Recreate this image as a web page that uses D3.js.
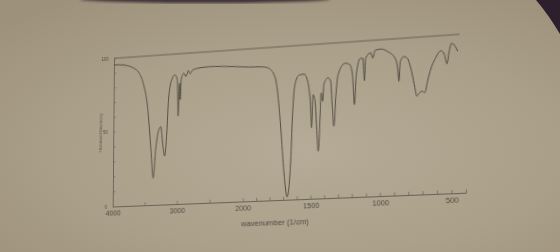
<!DOCTYPE html>
<html>
<head>
<meta charset="utf-8">
<script src="https://cdn.jsdelivr.net/npm/d3@7"></script>
<style>
body { margin:0; width:560px; height:252px; overflow:hidden; position:relative; background:#aca28c; }
#paper { position:absolute; left:0; top:0; }
#chart { position:absolute; left:0; top:0; transform-origin:0 0; overflow:visible; filter:blur(0.35px); }
text { font-family:"Liberation Sans", Arial, sans-serif; }
</style>
</head>
<body>
<svg id="paper" width="560" height="252"></svg>
<svg id="chart"></svg>
<script>

// IR spectrum (wavenumber in 1/cm, transmittance in %)
var wavenumbers = [4000, 3900, 3800, 3682, 3600, 3532, 3455, 3405, 3368, 3330, 3279, 3250, 3216, 3190,
    3156, 3130, 3081, 3031, 2991, 2982, 2956, 2947, 2931, 2890, 2856, 2820, 2791, 2754, 2679, 2500,
    2300, 2100, 1950, 1850, 1800, 1753, 1730, 1710, 1691, 1671, 1640, 1622, 1599, 1565, 1528, 1504,
    1488, 1482, 1466, 1452, 1443, 1437, 1418, 1406, 1396, 1385, 1354, 1334, 1328, 1319, 1298, 1279,
    1226, 1189, 1174, 1166, 1146, 1112, 1095, 1088, 1075, 1036, 1024, 1003, 961, 911, 863, 847,
    841, 826, 800, 776, 753, 732, 717, 697, 680, 660, 637, 617, 575, 535, 512, 497, 477, 458, 434, 417]
var transmittance = [95.5, 95.2, 94.5, 92.3, 89, 81.8, 63.7, 36.8, 17.7, 36.6, 49.9, 51.6, 38.5, 31.9,
    47.4, 69.6, 82.7, 85.9, 82.4, 58, 80, 69, 82.3, 86.6, 84.3, 88.2, 85.9, 88.4, 89.3, 89.9,
    89.5, 88.8, 87.9, 87.5, 86.5, 81.6, 70.6, 46.7, 17.3, 1.8, 24.5, 52.7, 74.2, 80.5, 80.8, 75.9,
    62.8, 45.6, 67, 62.6, 41, 30.2, 51.7, 67.9, 62.4, 73.2, 77.4, 75.1, 62.1, 45.8, 66.1, 79,
    86.2, 84.9, 78.4, 59, 78.3, 88.8, 88.6, 74, 88.6, 92, 88.4, 93.5, 93.9, 91.8, 87.4, 80.9,
    72.3, 85, 88, 86.9, 80.4, 69.7, 62.1, 64.2, 65.1, 64, 71.3, 77.5, 85.8, 90.2, 87.6, 81.6, 89.5, 94.6, 92.4, 89.2]

var xLabels = [4000, 3000, 2000, 1500, 1000, 500]
var xMinor = [4000, 3500, 3000, 2500, 2000, 1900, 1800, 1700, 1600, 1500, 1400, 1300, 1200, 1100,
    1000, 900, 800, 700, 600, 500, 400]
var yLabels = [0, 50, 100]
var yMinor = [0, 10, 20, 30, 40, 50, 60, 70, 80, 90, 100]
var xTitle = "wavenumber (1/cm)"
var yTitle = "TRANSMITTANCE(%)"

var spectrum = wavenumbers.map(function (w, i) { return {wn: w, t: transmittance[i]} })

// the paper the chart was printed on
var paper = d3.select("#paper")
var defs = paper.append("defs")
var grad = defs.append("radialGradient").attr("id", "bg")
    .attr("cx", "0.55").attr("cy", "0.6").attr("r", "0.75")
grad.append("stop").attr("offset", "0").attr("stop-color", "#b5ab96")
grad.append("stop").attr("offset", "0.55").attr("stop-color", "#aba08a")
grad.append("stop").attr("offset", "1").attr("stop-color", "#9d917b")
defs.append("filter").attr("id", "soft").append("feGaussianBlur").attr("stdDeviation", 1.5)

paper.append("rect").attr("width", 560).attr("height", 252).attr("fill", "url(#bg)")
paper.append("ellipse").attr("cx", 205).attr("cy", -1).attr("rx", 125).attr("ry", 4)
    .attr("fill", "#3c3036").attr("filter", "url(#soft)")
paper.append("path").attr("d", "M536,0 L560,0 L560,34 Q548,14 536,0 Z").attr("fill", "#2e1f2d")

// chart drawn flat, then put in perspective like the photo
var screen = {width: 400, height: 210}
var margins = {left: 40, top: 20}
var graph = {width: 350, height: 150}

var svg = d3.select("#chart")
    .attr("width", screen.width)
    .attr("height", screen.height)

var target = svg.append("g")
    .attr("transform", "translate(" + margins.left + "," + margins.top + ")")

var xScale = d3.scaleLinear()
    .domain([4000, 2000, 400])
    .range([0, graph.width / 2.6, graph.width])

var yScale = d3.scaleLinear()
    .domain([0, 100])
    .range([graph.height, 0])

var ink = "#544d44"
var axisInk = "#6a6357"
var textInk = "#4f4941"

// top frame line
target.append("line")
    .attr("x1", xScale(4000)).attr("x2", xScale(400))
    .attr("y1", yScale(100)).attr("y2", yScale(100))
    .attr("stroke", axisInk).attr("stroke-width", 1)

var xAxis = d3.axisBottom(xScale)
    .tickValues(xMinor)
    .tickSizeInner(-3)
    .tickSizeOuter(0)
    .tickPadding(3.5)
    .tickFormat(function (d) { return xLabels.indexOf(d) >= 0 ? d : "" })

var gx = target.append("g")
    .attr("transform", "translate(0," + graph.height + ")")
    .call(xAxis)
gx.select(".domain").attr("stroke", axisInk).attr("stroke-width", 1)
gx.selectAll(".tick line").attr("stroke", axisInk).attr("stroke-width", 0.7)
gx.selectAll(".tick text").attr("fill", textInk).attr("font-size", 7.2)

var yAxis = d3.axisLeft(yScale)
    .tickValues(yMinor)
    .tickSizeInner(-2.5)
    .tickSizeOuter(0)
    .tickPadding(6)
    .tickFormat(function (d) { return yLabels.indexOf(d) >= 0 ? d : "" })

var gy = target.append("g").call(yAxis)
gy.select(".domain").attr("stroke", axisInk).attr("stroke-width", 1)
gy.selectAll(".tick line").attr("stroke", axisInk).attr("stroke-width", 0.7)
gy.selectAll(".tick text").attr("fill", textInk).attr("font-size", 4.5)

target.append("text")
    .text(xTitle)
    .attr("x", graph.width * 0.475)
    .attr("y", graph.height + 24)
    .attr("text-anchor", "middle")
    .attr("font-size", 7.6)
    .attr("fill", textInk)

target.append("g")
    .attr("transform", "translate(-12," + (graph.height / 2 + 1) + ")")
    .append("text")
    .text(yTitle)
    .attr("transform", "rotate(270)")
    .attr("text-anchor", "middle")
    .attr("font-size", 4)
    .attr("fill", textInk)

var line = d3.line()
    .x(function (d) { return xScale(d.wn) })
    .y(function (d) { return yScale(d.t) })
    .curve(d3.curveMonotoneX)

target.append("path")
    .datum(spectrum)
    .attr("d", line)
    .attr("fill", "none")
    .attr("stroke", ink)
    .attr("stroke-width", 1)
    .attr("stroke-linejoin", "round")

// perspective: map the flat plot corners onto where they sit in the photo
var src = [[margins.left, margins.top], [margins.left + graph.width, margins.top],
           [margins.left, margins.top + graph.height], [margins.left + graph.width, margins.top + graph.height]]
var dst = [[114, 58.3], [459.5, 34.3], [112.7, 206.5], [466, 192.7]]

var homography = function (src, dst)
{
    var A = [], b = []
    for (var i = 0; i < 4; i++) {
        var x = src[i][0], y = src[i][1], X = dst[i][0], Y = dst[i][1]
        A.push([x, y, 1, 0, 0, 0, -x * X, -y * X]); b.push(X)
        A.push([0, 0, 0, x, y, 1, -x * Y, -y * Y]); b.push(Y)
    }
    var n = 8
    for (var c = 0; c < n; c++) {
        var p = c
        for (var r = c + 1; r < n; r++) if (Math.abs(A[r][c]) > Math.abs(A[p][c])) p = r
        var tmp = A[c]; A[c] = A[p]; A[p] = tmp
        var tb = b[c]; b[c] = b[p]; b[p] = tb
        for (var r2 = c + 1; r2 < n; r2++) {
            var f = A[r2][c] / A[c][c]
            for (var k = c; k < n; k++) A[r2][k] -= f * A[c][k]
            b[r2] -= f * b[c]
        }
    }
    var h = new Array(n)
    for (var i2 = n - 1; i2 >= 0; i2--) {
        var s = b[i2]
        for (var k2 = i2 + 1; k2 < n; k2++) s -= A[i2][k2] * h[k2]
        h[i2] = s / A[i2][i2]
    }
    return h
}

var h = homography(src, dst)
svg.style("transform", "matrix3d(" + [h[0], h[3], 0, h[6], h[1], h[4], 0, h[7], 0, 0, 1, 0, h[2], h[5], 0, 1].join(",") + ")")

</script>
</body>
</html>
